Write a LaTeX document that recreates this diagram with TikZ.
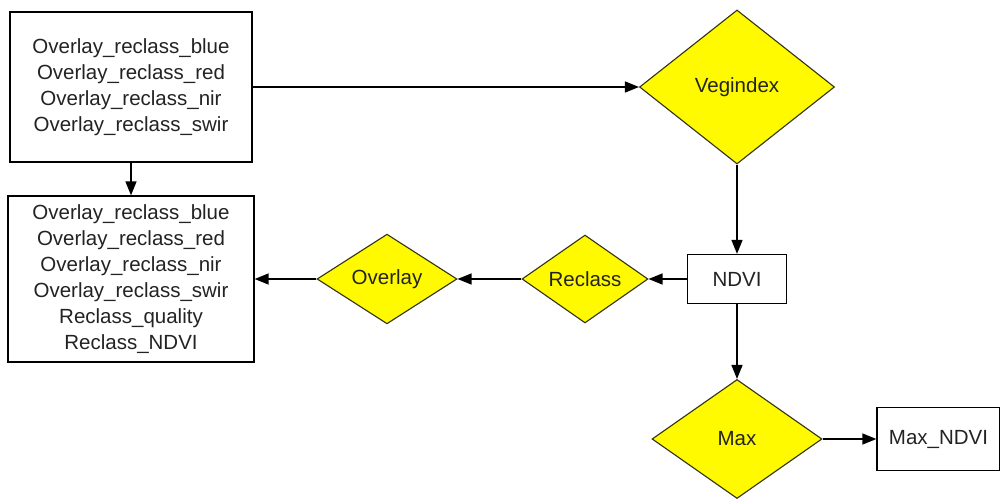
\documentclass[tikz,border=0pt]{standalone}
\usepackage{fontspec}
\setmainfont{Liberation Sans}
\usetikzlibrary{shapes.geometric,arrows.meta}
\definecolor{dyel}{RGB}{255,250,0}
\definecolor{txt}{RGB}{35,35,35}
\definecolor{dline}{RGB}{50,50,20}
\begin{document}
\begin{tikzpicture}[x=1pt,y=-1pt,
  box/.style={draw=black, line width=1.3pt, fill=white, inner sep=0pt, align=center, text=txt, font=\fontsize{20.5}{26}\selectfont},
  dia/.style={diamond, draw=dline, fill=dyel, inner sep=0pt, line width=1.1pt, text=txt, font=\fontsize{20.5}{26}\selectfont},
  arr/.style={line width=1.4pt, -{Triangle[length=14pt,width=11pt]}}]
\useasboundingbox (0,0) rectangle (1000,500);
\fill[white] (0,0) rectangle (1000,500);

\node[box, minimum width=242pt, minimum height=150pt] (b1) at (131,87)
  {Overlay\_reclass\_blue\\Overlay\_reclass\_red\\Overlay\_reclass\_nir\\Overlay\_reclass\_swir};
\node[box, minimum width=246pt, minimum height=166pt] (b2) at (131,279)
  {Overlay\_reclass\_blue\\Overlay\_reclass\_red\\Overlay\_reclass\_nir\\Overlay\_reclass\_swir\\Reclass\_quality\\Reclass\_NDVI};
\node[dia, minimum width=195pt, minimum height=154pt] (veg) at (737,87) {Vegindex};
\node[box, minimum width=99pt, minimum height=49pt] (ndvi) at (737,279) {NDVI};
\node[dia, minimum width=126pt, minimum height=80pt] (rec) at (585,279) {Reclass};
\node[dia, minimum width=140pt, minimum height=81pt] (ovl) at (387,279) {Overlay};
\node[dia, minimum width=170pt, minimum height=119pt] (max) at (737,439) {Max};
\node[box, minimum width=123pt, minimum height=63pt] (maxn) at (938.5,439) {Max\_NDVI};

\draw[arr] (b1.south) -- (b2.north);
\draw[arr] (b1.east) -- (veg.west);
\draw[arr] (veg.south) -- (ndvi.north);
\draw[arr] (ndvi.west) -- (rec.east);
\draw[arr] (rec.west) -- (ovl.east);
\draw[arr] (ovl.west) -- (b2.east);
\draw[arr] (ndvi.south) -- (max.north);
\draw[arr] (max.east) -- (maxn.west);
\end{tikzpicture}
\end{document}
